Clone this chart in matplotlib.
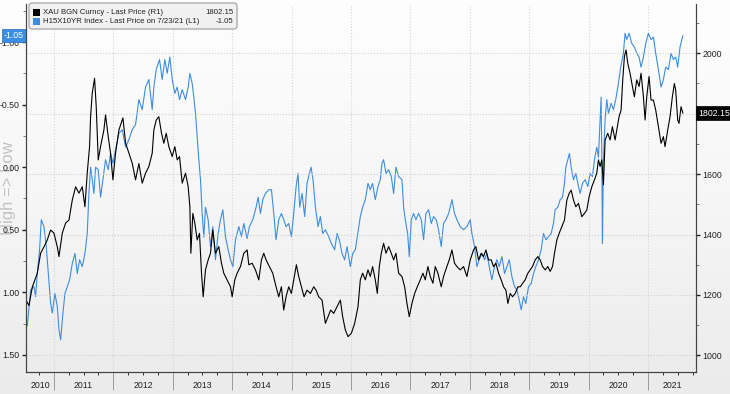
import numpy as np
import matplotlib
matplotlib.use('Agg')
import matplotlib.pyplot as plt
import matplotlib.transforms as mtrans
from matplotlib.patches import FancyBboxPatch, Rectangle
from matplotlib.colors import LinearSegmentedColormap
from matplotlib.ticker import FixedLocator, MultipleLocator, FuncFormatter, NullFormatter

# ---------------- data (decimal years) ----------------
gold_t = [2010.524, 2010.580, 2010.636, 2010.720, 2010.776, 2010.832, 2010.888, 2010.944, 2011.000, 2011.057,
          2011.085, 2011.141, 2011.197, 2011.253, 2011.309, 2011.365, 2011.421, 2011.477, 2011.522, 2011.561,
          2011.600, 2011.617, 2011.645, 2011.684, 2011.712, 2011.746, 2011.785, 2011.841, 2011.869, 2011.914,
          2011.953, 2011.993, 2012.037, 2012.094, 2012.161, 2012.206, 2012.262, 2012.318, 2012.374, 2012.430,
          2012.486, 2012.542, 2012.598, 2012.654, 2012.682, 2012.722, 2012.766, 2012.811, 2012.850, 2012.890,
          2012.934, 2012.991, 2013.035, 2013.075, 2013.114, 2013.159, 2013.215, 2013.260, 2013.288, 2013.305,
          2013.338, 2013.372, 2013.411, 2013.450, 2013.484, 2013.512, 2013.551, 2013.596, 2013.635, 2013.674,
          2013.719, 2013.775, 2013.820, 2013.859, 2013.915, 2013.972, 2014.000, 2014.044, 2014.084, 2014.140,
          2014.196, 2014.252, 2014.280, 2014.336, 2014.392, 2014.448, 2014.493, 2014.532, 2014.571, 2014.627,
          2014.683, 2014.739, 2014.784, 2014.829, 2014.868, 2014.907, 2014.952, 2014.997, 2015.036, 2015.081,
          2015.120, 2015.165, 2015.210, 2015.260, 2015.317, 2015.373, 2015.412, 2015.457, 2015.513, 2015.569,
          2015.614, 2015.658, 2015.709, 2015.765, 2015.821, 2015.860, 2015.905, 2015.950, 2016.006, 2016.062,
          2016.118, 2016.157, 2016.196, 2016.241, 2016.286, 2016.325, 2016.364, 2016.409, 2016.443, 2016.477,
          2016.510, 2016.549, 2016.589, 2016.634, 2016.678, 2016.718, 2016.757, 2016.802, 2016.858, 2016.903,
          2016.942, 2016.981, 2017.026, 2017.071, 2017.116, 2017.166, 2017.211, 2017.250, 2017.295, 2017.334,
          2017.379, 2017.418, 2017.463, 2017.519, 2017.558, 2017.614, 2017.654, 2017.699, 2017.743, 2017.783,
          2017.839, 2017.895, 2017.951, 2018.007, 2018.063, 2018.102, 2018.147, 2018.192, 2018.231, 2018.271,
          2018.315, 2018.360, 2018.399, 2018.439, 2018.484, 2018.528, 2018.568, 2018.607, 2018.641, 2018.680,
          2018.719, 2018.764, 2018.809, 2018.848, 2018.887, 2018.932, 2018.977, 2019.016, 2019.055, 2019.100,
          2019.145, 2019.184, 2019.224, 2019.268, 2019.313, 2019.352, 2019.392, 2019.425, 2019.465, 2019.504,
          2019.549, 2019.593, 2019.633, 2019.672, 2019.706, 2019.745, 2019.784, 2019.829, 2019.857, 2019.885,
          2019.930, 2019.969, 2020.008, 2020.053, 2020.098, 2020.137, 2020.165, 2020.193, 2020.221, 2020.249,
          2020.277, 2020.322, 2020.361, 2020.400, 2020.445, 2020.473, 2020.512, 2020.546, 2020.574, 2020.602,
          2020.630, 2020.658, 2020.697, 2020.737, 2020.770, 2020.810, 2020.849, 2020.882, 2020.922, 2020.950,
          2020.978, 2021.017, 2021.050, 2021.090, 2021.129, 2021.174, 2021.219, 2021.258, 2021.286, 2021.331,
          2021.370, 2021.409, 2021.443, 2021.465, 2021.499, 2021.521, 2021.555, 2021.585]
gold_v = [1185, 1165, 1226, 1272, 1338, 1359, 1382, 1415, 1405, 1359,
          1327, 1405, 1438, 1448, 1514, 1558, 1537, 1558, 1492, 1604,
          1691, 1790, 1868, 1917, 1823, 1647, 1691, 1746, 1796, 1724,
          1669, 1581, 1669, 1746, 1786, 1703, 1669, 1636, 1581, 1635,
          1570, 1603, 1625, 1669, 1746, 1779, 1790, 1735, 1702, 1735,
          1691, 1658, 1691, 1647, 1658, 1570, 1603, 1558, 1492, 1338,
          1470, 1437, 1382, 1404, 1272, 1194, 1283, 1316, 1338, 1415,
          1338, 1360, 1305, 1272, 1250, 1227, 1194, 1250, 1272, 1294,
          1338, 1349, 1300, 1305, 1283, 1250, 1316, 1338, 1316, 1294,
          1272, 1227, 1194, 1227, 1150, 1194, 1227, 1205, 1250, 1300,
          1261, 1227, 1194, 1216, 1205, 1227, 1216, 1194, 1183, 1106,
          1128, 1150, 1139, 1161, 1183, 1128, 1084, 1062, 1073, 1106,
          1161, 1250, 1272, 1250, 1283, 1261, 1294, 1250, 1205, 1294,
          1338, 1371, 1338, 1360, 1338, 1316, 1338, 1272, 1261, 1227,
          1172, 1128, 1172, 1205, 1227, 1250, 1272, 1250, 1294, 1261,
          1239, 1294, 1272, 1227, 1261, 1294, 1316, 1349, 1305, 1294,
          1283, 1294, 1261, 1316, 1349, 1360, 1316, 1338, 1327, 1349,
          1316, 1316, 1294, 1305, 1272, 1250, 1227, 1216, 1172, 1205,
          1194, 1205, 1227, 1227, 1238, 1250, 1272, 1283, 1294, 1316,
          1327, 1316, 1294, 1283, 1294, 1278, 1294, 1338, 1382, 1404,
          1426, 1448, 1514, 1536, 1547, 1514, 1492, 1503, 1481, 1459,
          1470, 1481, 1525, 1558, 1581, 1603, 1647, 1625, 1647, 1565,
          1713, 1735, 1713, 1757, 1713, 1746, 1790, 1812, 1912, 1989,
          2011, 1967, 1934, 1890, 1856, 1912, 1890, 1934, 1856, 1779,
          1856, 1923, 1845, 1845, 1812, 1757, 1702, 1724, 1691, 1746,
          1790, 1856, 1900, 1878, 1779, 1768, 1823, 1802.15]

real_t = [2010.524, 2010.552, 2010.608, 2010.664, 2010.692, 2010.720, 2010.759, 2010.787, 2010.832, 2010.871,
          2010.905, 2010.944, 2010.972, 2011.017, 2011.057, 2011.085, 2011.113, 2011.152, 2011.185, 2011.225,
          2011.264, 2011.309, 2011.354, 2011.393, 2011.432, 2011.477, 2011.522, 2011.561, 2011.589, 2011.617,
          2011.645, 2011.673, 2011.701, 2011.746, 2011.785, 2011.824, 2011.869, 2011.914, 2011.953, 2011.993,
          2012.037, 2012.094, 2012.150, 2012.206, 2012.262, 2012.318, 2012.374, 2012.430, 2012.486, 2012.542,
          2012.598, 2012.654, 2012.682, 2012.722, 2012.778, 2012.822, 2012.867, 2012.907, 2012.951, 2012.991,
          2013.035, 2013.075, 2013.114, 2013.159, 2013.215, 2013.260, 2013.288, 2013.327, 2013.355, 2013.383,
          2013.411, 2013.439, 2013.467, 2013.495, 2013.523, 2013.551, 2013.596, 2013.635, 2013.674, 2013.719,
          2013.764, 2013.803, 2013.843, 2013.887, 2013.932, 2013.972, 2014.011, 2014.056, 2014.112, 2014.157,
          2014.196, 2014.252, 2014.291, 2014.347, 2014.403, 2014.437, 2014.476, 2014.515, 2014.560, 2014.616,
          2014.661, 2014.700, 2014.739, 2014.784, 2014.829, 2014.868, 2014.907, 2014.952, 2014.997, 2015.036,
          2015.076, 2015.109, 2015.137, 2015.176, 2015.221, 2015.260, 2015.300, 2015.328, 2015.361, 2015.401,
          2015.446, 2015.485, 2015.524, 2015.569, 2015.625, 2015.670, 2015.726, 2015.765, 2015.804, 2015.849,
          2015.894, 2015.933, 2015.989, 2016.029, 2016.073, 2016.118, 2016.157, 2016.196, 2016.241, 2016.286,
          2016.325, 2016.364, 2016.409, 2016.454, 2016.493, 2016.521, 2016.549, 2016.589, 2016.634, 2016.678,
          2016.718, 2016.757, 2016.802, 2016.858, 2016.886, 2016.914, 2016.953, 2016.981, 2017.015, 2017.054,
          2017.093, 2017.138, 2017.183, 2017.222, 2017.261, 2017.306, 2017.351, 2017.390, 2017.435, 2017.474,
          2017.519, 2017.558, 2017.598, 2017.643, 2017.699, 2017.743, 2017.783, 2017.839, 2017.895, 2017.951,
          2018.007, 2018.035, 2018.080, 2018.119, 2018.158, 2018.203, 2018.248, 2018.287, 2018.327, 2018.371,
          2018.416, 2018.456, 2018.495, 2018.540, 2018.585, 2018.624, 2018.663, 2018.708, 2018.753, 2018.792,
          2018.831, 2018.865, 2018.904, 2018.943, 2018.988, 2019.033, 2019.072, 2019.111, 2019.156, 2019.201,
          2019.240, 2019.280, 2019.324, 2019.369, 2019.408, 2019.436, 2019.481, 2019.521, 2019.560, 2019.593,
          2019.616, 2019.650, 2019.677, 2019.706, 2019.745, 2019.784, 2019.829, 2019.857, 2019.896, 2019.941,
          2019.986, 2020.025, 2020.064, 2020.098, 2020.137, 2020.165, 2020.193, 2020.210, 2020.221, 2020.232,
          2020.249, 2020.277, 2020.305, 2020.333, 2020.378, 2020.417, 2020.456, 2020.501, 2020.540, 2020.585,
          2020.613, 2020.641, 2020.681, 2020.725, 2020.770, 2020.810, 2020.849, 2020.882, 2020.922, 2020.961,
          2021.006, 2021.050, 2021.090, 2021.129, 2021.174, 2021.219, 2021.258, 2021.297, 2021.342, 2021.387,
          2021.426, 2021.466, 2021.499, 2021.538, 2021.585]
real_v = [1.22, 1.27, 0.98, 0.955, 1.035, 0.85, 0.66, 0.42, 0.475, 0.635,
          0.85, 1.085, 1.165, 1.01, 1.115, 1.30, 1.38, 1.165, 1.01, 0.955,
          0.90, 0.77, 0.69, 0.85, 0.74, 0.795, 0.69, 0.53, 0.21, 0.00,
          0.10, 0.21, 0.00, 0.02, 0.24, 0.10, -0.06, 0.02, -0.11, -0.03,
          -0.14, -0.27, -0.30, -0.16, -0.22, -0.30, -0.34, -0.54, -0.46, -0.64,
          -0.70, -0.46, -0.64, -0.78, -0.86, -0.70, -0.86, -0.75, -0.88, -0.70,
          -0.59, -0.64, -0.54, -0.62, -0.54, -0.64, -0.75, -0.67, -0.56, -0.43,
          -0.24, -0.06, 0.10, 0.37, 0.56, 0.32, 0.42, 0.635, 0.475, 0.74,
          0.53, 0.42, 0.34, 0.555, 0.66, 0.74, 0.795, 0.58, 0.475, 0.555,
          0.45, 0.57, 0.475, 0.42, 0.32, 0.24, 0.37, 0.26, 0.21, 0.18,
          0.18, 0.37, 0.58, 0.42, 0.37, 0.42, 0.475, 0.45, 0.555, 0.37,
          0.155, 0.05, 0.32, 0.21, 0.395, 0.13, 0.05, 0.00, 0.10, 0.32,
          0.475, 0.395, 0.53, 0.50, 0.555, 0.61, 0.66, 0.53, 0.58, 0.69,
          0.74, 0.635, 0.795, 0.69, 0.66, 0.52, 0.395, 0.32, 0.26, 0.13,
          0.18, 0.13, 0.26, 0.155, 0.10, -0.03, -0.06, 0.05, 0.02, 0.075,
          0.21, 0.00, 0.075, 0.10, 0.32, 0.42, 0.53, 0.715, 0.42, 0.37,
          0.42, 0.37, 0.42, 0.58, 0.37, 0.34, 0.45, 0.395, 0.42, 0.50,
          0.635, 0.45, 0.42, 0.37, 0.26, 0.37, 0.42, 0.475, 0.50, 0.475,
          0.42, 0.53, 0.635, 0.795, 0.74, 0.69, 0.74, 0.69, 0.795, 0.90,
          0.795, 0.74, 0.795, 0.715, 0.85, 0.795, 0.74, 0.875, 0.955, 0.98,
          1.06, 1.14, 1.035, 1.09, 0.955, 0.93, 0.85, 0.795, 0.74, 0.66,
          0.53, 0.58, 0.555, 0.53, 0.45, 0.34, 0.32, 0.26, 0.24, 0.13,
          0.00, -0.06, -0.11, 0.00, 0.10, 0.05, 0.155, 0.21, 0.13, 0.10,
          0.155, 0.05, 0.075, -0.06, -0.16, -0.08, -0.38, -0.56, -0.11, 0.61,
          -0.06, -0.38, -0.54, -0.43, -0.51, -0.46, -0.54, -0.67, -0.80, -0.91,
          -1.07, -1.02, -1.07, -0.99, -0.96, -0.91, -0.88, -0.80, -0.88, -0.99,
          -1.07, -1.02, -1.04, -0.91, -0.78, -0.64, -0.70, -0.80, -0.78, -0.91,
          -0.86, -0.88, -0.80, -0.96, -1.05]

years = list(range(2010, 2022))
gold_last = 1802.15
real_last = -1.05
legend_gold = "XAU BGN Curncy - Last Price (R1)"
legend_real = "H15X10YR Index - Last Price on 7/23/21 (L1)"
left_ticks = [-1.0, -0.5, 0.0, 0.5, 1.0, 1.5]
right_ticks = [1000, 1200, 1400, 1600, 1800, 2000]

# ---------------- layout ----------------
W, H = 730, 394
plt.rcParams['font.family'] = ['Liberation Sans', 'DejaVu Sans']

fig = plt.figure(figsize=(W / 100, H / 100), dpi=100)

def fx(px):
    return px / W

def fy(py):
    return 1 - py / H

# background gradient
bg = fig.add_axes([0, 0, 1, 1], zorder=-2)
grad = np.linspace(0, 1, 256).reshape(-1, 1)
cmap = LinearSegmentedColormap.from_list('bgc', ['#fefefe', '#f6f6f6', '#ebebeb'])
bg.imshow(grad, aspect='auto', cmap=cmap, extent=[0, 1, 0, 1], origin='upper')
bg.set_axis_off()

L, R, T, B = 26, 696, 4, 372
ax = fig.add_axes([fx(L), fy(B), fx(R) - fx(L), fy(T) - fy(B)])
ax.patch.set_visible(False)
ax2 = ax.twinx()
ax2.patch.set_visible(False)

blue = '#3e8ddd'
ax.plot(real_t, real_v, color=blue, lw=0.8, zorder=2)
ax2.plot(gold_t, gold_v, color='black', lw=0.8, zorder=2)

ax.set_xlim(2010.53, 2021.807)
ax.set_ylim(1.637, -1.304)
ax2.set_ylim(945, 2163)

# spines
for a in (ax, ax2):
    a.spines['top'].set_visible(False)
    for s in ('left', 'right', 'bottom'):
        a.spines[s].set_color('#444444')
        a.spines[s].set_linewidth(0.8)

# left axis ticks
ax.yaxis.set_major_locator(FixedLocator(left_ticks))
ax.yaxis.set_major_formatter(FuncFormatter(lambda v, p: f"{v:.2f}"))
ax.yaxis.set_minor_locator(MultipleLocator(0.25))
ax.tick_params(axis='y', which='major', length=3, width=1.0, color='#222222',
               labelsize=6.3, labelcolor='#222222', pad=1.5)
ax.tick_params(axis='y', which='minor', length=2, width=0.6, color='#666666')

# right axis ticks (1800 label hidden behind the last-price tag in the reference)
ax2.yaxis.set_major_locator(FixedLocator(right_ticks))
ax2.yaxis.set_major_formatter(FuncFormatter(lambda v, p: "" if abs(v - 1800) < 1 else f"{v:.0f}"))
ax2.yaxis.set_minor_locator(MultipleLocator(100))
ax2.tick_params(axis='y', which='major', length=3, width=1.0, color='#222222',
                labelsize=6.3, labelcolor='#222222', pad=1.5)
ax2.tick_params(axis='y', which='minor', length=2, width=0.6, color='#666666')

# x axis: year separators as long major ticks, quarters as minor
ax.xaxis.set_major_locator(FixedLocator(years[1:]))
ax.xaxis.set_major_formatter(NullFormatter())
ax.xaxis.set_minor_locator(FixedLocator([y + q for y in years for q in (0.25, 0.5, 0.75)]))
ax.tick_params(axis='x', which='major', length=13, width=0.7, color='#9a9a9a')
ax.tick_params(axis='x', which='minor', length=2.2, width=0.7, color='#333333')

# grid
ax.grid(axis='x', which='major', color='#d4d4d4', linestyle=':', linewidth=0.8)
ax2.grid(axis='y', which='major', color='#cfcfcf', linestyle=':', linewidth=0.8)
ax.set_axisbelow(True)
ax2.set_axisbelow(True)

# year labels
xmin, xmax = ax.get_xlim()
tr = mtrans.blended_transform_factory(ax.transData, ax.transAxes)
for y in years:
    lo, hi = max(y, xmin), min(y + 1, xmax)
    ax.text((lo + hi) / 2, -0.036, str(y), transform=tr, ha='center', va='center',
            fontsize=6.3, color='#222222', clip_on=False)

# last value tags
trl = mtrans.blended_transform_factory(ax.transAxes, ax.transData)
ax.text(-0.003, real_last, f"{real_last:.2f}", transform=trl, ha='right', va='center',
        fontsize=6.3, color='white', zorder=10, clip_on=False,
        bbox=dict(boxstyle='square,pad=0.25', fc='#3b8ee3', ec='#2a6fb5', lw=0.5))
trr = mtrans.blended_transform_factory(ax2.transAxes, ax2.transData)
ax2.text(1.004, gold_last, f"{gold_last:.2f}", transform=trr, ha='left', va='center',
         fontsize=6.3, color='white', zorder=10, clip_on=False,
         bbox=dict(boxstyle='square,pad=0.25', fc='black', ec='black', lw=0.5))

# side label
fig.text(fx(9), fy(188), "High => Low", rotation=90, ha='center', va='center',
         fontsize=12, color='#c2c2c2', zorder=-1)

# legend box
box = FancyBboxPatch((29, H - 29), 208, 26, boxstyle='round,pad=0,rounding_size=3',
                     transform=None, fc='#f1f1f1', ec='#9a9a9a', lw=0.8, zorder=20)
fig.add_artist(box)
for i, (lab, val, col) in enumerate([(legend_gold, f"{gold_last:.2f}", 'black'),
                                     (legend_real, f"{real_last:.2f}", blue)]):
    ypx = 12 + i * 9.5
    sq = Rectangle((33, H - ypx - 3.5), 7, 7, transform=None, fc=col, ec='none', zorder=21)
    fig.add_artist(sq)
    fig.text(fx(43), fy(ypx), lab, ha='left', va='center', fontsize=5.6, color='#222222', zorder=21)
    fig.text(fx(233), fy(ypx), val, ha='right', va='center', fontsize=5.6, color='#222222', zorder=21)

fig.savefig('out.png', dpi=100)
